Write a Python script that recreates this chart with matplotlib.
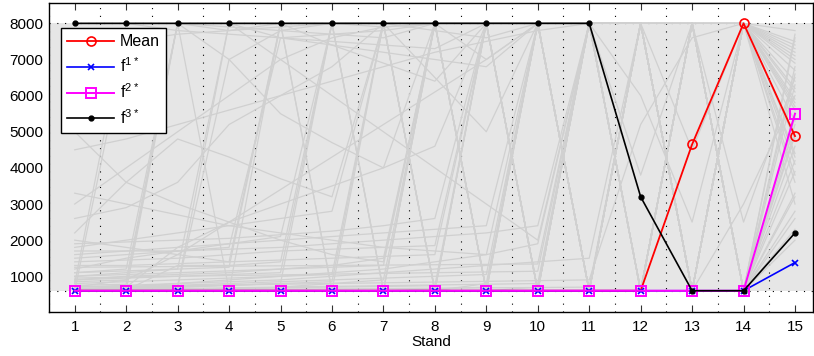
import matplotlib
matplotlib.use("Agg")
import matplotlib.pyplot as plt

plt.rcParams['font.family'] = ['Liberation Sans', 'DejaVu Sans']
plt.rcParams['mathtext.default'] = 'regular'

# Stands on the horizontal axis
stands = list(range(1, 16))
y_ticks = [1000, 2000, 3000, 4000, 5000, 6000, 7000, 8000]
lower_bound = 600
upper_bound = 8000

# Highlighted solutions
mean_vals = [600, 600, 600, 600, 600, 600, 600, 600, 600, 600, 600, 600, 4650, 8000, 4880]
f1_vals = [600, 600, 600, 600, 600, 600, 600, 600, 600, 600, 600, 600, 600, 600, 1380]
f2_vals = [600, 600, 600, 600, 600, 600, 600, 600, 600, 600, 600, 600, 600, 600, 5500]
f3_vals = [8000, 8000, 8000, 8000, 8000, 8000, 8000, 8000, 8000, 8000, 8000, 3200, 600, 600, 2200]

# Remaining solutions of the set, drawn in the background
gray_paths = [
    [650, 700, 800, 900, 1000, 1100, 1200, 1400, 1600, 1900, 8000, 600, 8000, 600, 6800],
    [900, 1000, 1050, 1100, 1200, 1300, 1500, 8000, 600, 700, 8000, 8000, 600, 8000, 7200],
    [1200, 1500, 1700, 1900, 2100, 8000, 600, 650, 700, 8000, 600, 600, 8000, 600, 4200],
    [600, 650, 700, 750, 800, 850, 8000, 600, 800, 8000, 600, 8000, 8000, 600, 5200],
    [1900, 1950, 2000, 2050, 2150, 2250, 2400, 2600, 8000, 600, 600, 8000, 600, 3000, 6000],
    [3300, 3000, 2700, 2400, 2200, 2000, 1800, 1700, 1600, 8000, 600, 8000, 600, 8000, 3600],
    [4500, 4800, 5200, 5600, 6000, 6400, 6800, 7200, 7500, 7800, 8000, 600, 8000, 600, 2600],
    [800, 8000, 7800, 7700, 7600, 7500, 7400, 7300, 8000, 600, 600, 8000, 600, 8000, 7400],
    [600, 600, 8000, 7900, 7800, 7700, 7600, 8000, 600, 600, 8000, 8000, 600, 600, 4600],
    [1000, 1100, 1200, 8000, 7000, 6000, 5000, 4000, 3000, 2000, 8000, 600, 8000, 8000, 3000],
    [1500, 1600, 1700, 1800, 7600, 7700, 7800, 8000, 8000, 8000, 8000, 600, 600, 8000, 5600],
    [700, 750, 800, 850, 900, 1000, 1100, 1200, 1300, 1400, 1500, 8000, 600, 8000, 6400],
    [5000, 3600, 3000, 2500, 2000, 1600, 1400, 8000, 600, 8000, 600, 8000, 8000, 600, 2000],
    [620, 640, 660, 680, 700, 720, 740, 760, 780, 800, 8000, 8000, 600, 8000, 7800],
    [1800, 2000, 2200, 2400, 2600, 2800, 8000, 7800, 7600, 8000, 600, 600, 8000, 600, 6600],
    [1100, 1200, 8000, 600, 700, 800, 900, 8000, 7000, 8000, 8000, 600, 8000, 8000, 3800],
    [650, 680, 720, 8000, 7600, 7400, 7200, 7000, 6800, 8000, 600, 8000, 600, 600, 5400],
    [2200, 3600, 4800, 4300, 3700, 3200, 8000, 600, 600, 600, 8000, 600, 8000, 600, 7600],
    [600, 620, 1300, 1300, 1400, 8000, 8000, 6500, 5000, 8000, 8000, 8000, 600, 8000, 4800],
    [1400, 1450, 1500, 1600, 1700, 1750, 1800, 1850, 8000, 8000, 600, 600, 8000, 8000, 6200],
    [900, 950, 1000, 1050, 1100, 8000, 7900, 8000, 8000, 600, 8000, 8000, 8000, 600, 2800],
    [750, 780, 8000, 7800, 8000, 600, 600, 8000, 600, 8000, 600, 8000, 600, 8000, 7000],
    [600, 7500, 7700, 7800, 7900, 8000, 8000, 8000, 8000, 8000, 8000, 8000, 600, 600, 3300],
    [2600, 2900, 3600, 5200, 6000, 6800, 8000, 8000, 8000, 600, 600, 8000, 8000, 600, 5000],
    [700, 900, 1600, 2500, 3400, 4300, 5200, 6100, 7000, 8000, 8000, 600, 600, 8000, 6900],
    [1600, 1700, 1800, 1900, 2000, 2100, 2200, 2300, 2400, 8000, 8000, 8000, 600, 8000, 4400],
    [600, 650, 700, 750, 800, 8000, 600, 8000, 600, 8000, 600, 600, 8000, 8000, 5800],
    [800, 850, 900, 950, 1000, 1050, 8000, 600, 8000, 600, 8000, 8000, 600, 8000, 7300],
    [1300, 1300, 1350, 1400, 1450, 1500, 1550, 1600, 8000, 600, 8000, 600, 8000, 600, 3200],
    [3000, 4000, 5000, 6000, 7000, 7600, 7900, 8000, 600, 8000, 8000, 600, 8000, 8000, 6100],
    [600, 600, 600, 600, 8000, 600, 8000, 600, 8000, 600, 8000, 8000, 8000, 600, 4900],
    [1000, 1050, 1100, 1150, 1200, 1250, 1300, 8000, 8000, 8000, 600, 8000, 600, 8000, 5300],
    [650, 700, 750, 800, 850, 900, 950, 1000, 1050, 8000, 8000, 600, 8000, 600, 7700],
    [2000, 1800, 1600, 1400, 8000, 7400, 6900, 6400, 8000, 600, 8000, 8000, 600, 600, 2300],
    [600, 620, 640, 660, 680, 700, 720, 740, 8000, 8000, 600, 600, 600, 8000, 6700],
    [850, 900, 8000, 7000, 5500, 4700, 4000, 8000, 600, 600, 600, 8000, 8000, 8000, 4100],
    [1700, 1700, 1700, 1750, 1800, 1900, 2000, 2100, 2200, 2400, 8000, 8000, 600, 8000, 5900],
    [600, 700, 1800, 2500, 3000, 3500, 4000, 4600, 8000, 600, 600, 600, 8000, 600, 6300],
    [1100, 1150, 1200, 1250, 8000, 8000, 600, 8000, 8000, 8000, 600, 8000, 8000, 600, 3900],
    [620, 650, 700, 7000, 7800, 8000, 8000, 600, 8000, 8000, 8000, 600, 600, 8000, 7100],
    [700, 720, 740, 760, 780, 800, 820, 840, 860, 880, 900, 5200, 7600, 8000, 5700],
    [950, 980, 1000, 1020, 1040, 1060, 1080, 1100, 1120, 1140, 8000, 3800, 8000, 2500, 6500],
    [600, 610, 620, 630, 640, 650, 660, 670, 680, 690, 700, 8000, 4500, 8000, 7500],
    [1250, 1260, 1270, 1280, 1290, 1300, 1310, 1320, 1330, 1340, 8000, 6000, 2500, 8000, 4300],
]

W, H = 814, 356
fig = plt.figure(figsize=(W / 100, H / 100), dpi=100)
ax = fig.add_axes([49 / W, (H - 311.7) / H, (813 - 49) / W, (311.7 - 3.3) / H])
ax.set_xlim(0.5, 15.35)
ax.set_ylim(20, 8555)

# feasible band
ax.axhspan(lower_bound, upper_bound, color='#e6e6e6', lw=0, zorder=0)

dots = (0, (1, 6))
for k in range(len(stands)):
    ax.axvline(stands[k] - 0.5, color='k', lw=0.8, ls=dots, zorder=1)
for yb in (lower_bound, upper_bound):
    ax.axhline(yb, color='k', lw=0.8, ls=dots, zorder=1)

for path in gray_paths:
    ax.plot(stands, path, color='#d0d0d0', lw=0.9, zorder=2)

ax.plot(stands, mean_vals, color='red', lw=1.3, marker='o', ms=6.5,
        mfc='none', mec='red', mew=1.2, markevery=[12, 13, 14], label='Mean', zorder=3)
ax.plot(stands, f1_vals, color='blue', lw=1.2, marker='x', ms=4, mew=1.2,
        label=r'f$^{1*}$', zorder=4)
ax.plot(stands, f2_vals, color='magenta', lw=1.4, marker='s', ms=7,
        mfc='none', mec='magenta', mew=1.4, label=r'f$^{2*}$', zorder=5)
ax.plot(stands, f3_vals, color='black', lw=1.2, marker='o', ms=3.5,
        label=r'f$^{3*}$', zorder=6)

ax.set_xticks(stands)
ax.set_xticklabels([str(s) for s in stands])
ax.set_yticks(y_ticks)
ax.set_yticklabels([str(v) for v in y_ticks])
ax.tick_params(axis='x', which='both', direction='in', length=5, width=0.8,
               top=True, bottom=True, labelsize=11, pad=6, color='#333333')
ax.tick_params(axis='y', length=0, labelsize=11, pad=4)
ax.set_xlabel('Stand', fontsize=11, labelpad=1)

for side in ('left', 'top', 'bottom', 'right'):
    ax.spines[side].set_linewidth(1.0)
    ax.spines[side].set_color('black')

leg = ax.legend(loc='upper left', bbox_to_anchor=((61 - 49) / 764, (311.7 - 28) / 308.4),
                borderaxespad=0, fancybox=False, edgecolor='black', framealpha=1,
                fontsize=11.5, handlelength=2.9, labelspacing=0.45, borderpad=0.4,
                handletextpad=0.4)
leg.get_frame().set_linewidth(1.0)
leg.set_zorder(10)

fig.savefig('out.png', dpi=100)
